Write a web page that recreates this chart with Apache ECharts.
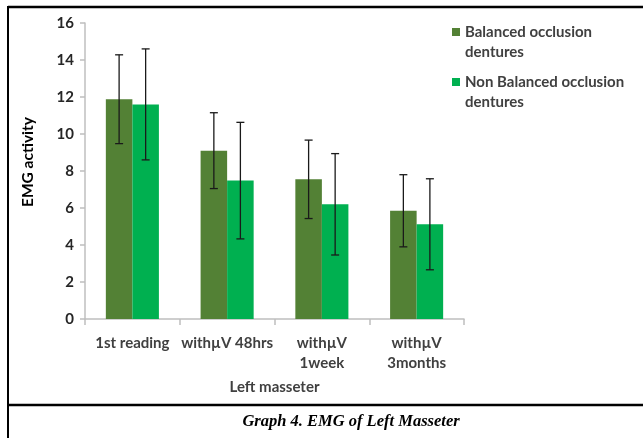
<!DOCTYPE html>
<html>
<head>
<meta charset="utf-8">
<script src="https://cdn.jsdelivr.net/npm/echarts@6/dist/echarts.min.js"></script>
<style>
  html, body { margin: 0; padding: 0; background: #fff; }
  #chart { width: 643px; height: 438px; }
</style>
</head>
<body>
<div id="chart"></div>
<script>
// ---- data ----
const categories = ['1st reading', 'withµV 48hrs', 'withµV\n1week', 'withµV\n3months'];
const seriesNames = ['Balanced occlusion dentures', 'Non Balanced occlusion dentures'];
const balancedMean = [11.88, 9.10, 7.55, 5.85];
const balancedSD   = [2.40, 2.05, 2.12, 1.95];
const nonBalancedMean = [11.60, 7.48, 6.20, 5.12];
const nonBalancedSD   = [3.00, 3.15, 2.74, 2.46];
const yTicks = [0, 2, 4, 6, 8, 10, 12, 14, 16];

const colors = ['#538135', '#00B050'];
const barRatio = 0.28;
const fontFam = 'Lato, "Liberation Sans", sans-serif';

function errData(mean, sd) {
  return mean.map((m, i) => [i, m - sd[i], m + sd[i]]);
}

function errRender(side) {
  return function (params, api) {
    const xi = api.value(0);
    const bandW = api.size([1, 0])[0];
    const off = side * bandW * barRatio / 2;
    const lo = api.coord([xi, api.value(1)]);
    const hi = api.coord([xi, api.value(2)]);
    const x = lo[0] + off;
    const cap = 4;
    const st = { stroke: '#1a1a1a', lineWidth: 1.3 };
    return {
      type: 'group',
      children: [
        { type: 'line', shape: { x1: x, y1: hi[1], x2: x, y2: lo[1] }, style: st },
        { type: 'line', shape: { x1: x - cap, y1: hi[1], x2: x + cap, y2: hi[1] }, style: st },
        { type: 'line', shape: { x1: x - cap, y1: lo[1], x2: x + cap, y2: lo[1] }, style: st }
      ]
    };
  };
}

const chart = echarts.init(document.getElementById('chart'), null, { renderer: 'canvas' });
chart.setOption({
  animation: false,
  backgroundColor: '#fff',
  grid: { left: 85, right: 179, top: 23, bottom: 119, containLabel: false },
  legend: {
    orient: 'vertical',
    left: 452,
    top: 2,
    padding: 0,
    itemWidth: 8,
    itemHeight: 8,
    itemGap: -10,
    icon: 'rect',
    data: seriesNames,
    formatter: function (name) {
      return ' \n' + name.replace(' dentures', '\ndentures');
    },
    textStyle: {
      fontFamily: fontFam,
      fontSize: 15,
      fontWeight: 'bold',
      color: '#404040',
      lineHeight: 20
    }
  },
  xAxis: {
    type: 'category',
    data: categories,
    name: 'Left masseter',
    nameLocation: 'middle',
    nameGap: 61,
    nameTextStyle: { fontFamily: fontFam, fontSize: 15, fontWeight: 'bold', color: '#404040' },
    axisLine: { lineStyle: { color: '#BFBFBF', width: 1.5 } },
    axisTick: { show: true, length: 6, lineStyle: { color: '#BFBFBF', width: 1.5 } },
    axisLabel: {
      fontFamily: fontFam, fontSize: 15, fontWeight: 'bold', color: '#404040',
      lineHeight: 20, margin: 14, interval: 0
    },
    splitLine: { show: false }
  },
  yAxis: {
    type: 'value',
    min: yTicks[0],
    max: yTicks[yTicks.length - 1],
    interval: yTicks[1] - yTicks[0],
    name: 'EMG activity',
    nameLocation: 'middle',
    nameGap: 49,
    nameTextStyle: { fontFamily: fontFam, fontSize: 15.5, fontWeight: 'bold', color: '#000', padding: [0, 0, 0, 18] },
    axisLine: { show: true, lineStyle: { color: '#BFBFBF', width: 1.5 } },
    axisTick: { show: true, length: 5, lineStyle: { color: '#BFBFBF', width: 1.5 } },
    axisLabel: { fontFamily: fontFam, fontSize: 15, fontWeight: 'bold', color: '#262626', margin: 11 },
    splitLine: { show: false }
  },
  series: [
    {
      name: seriesNames[0], type: 'bar', data: balancedMean,
      barWidth: (barRatio * 100) + '%', barGap: '0%',
      itemStyle: { color: colors[0] }
    },
    {
      name: seriesNames[1], type: 'bar', data: nonBalancedMean,
      barWidth: (barRatio * 100) + '%', barGap: '0%',
      itemStyle: { color: colors[1] }
    },
    {
      type: 'custom', name: 'err1', data: errData(balancedMean, balancedSD),
      renderItem: errRender(-1), encode: { x: 0, y: [1, 2] }, z: 10, silent: true
    },
    {
      type: 'custom', name: 'err2', data: errData(nonBalancedMean, nonBalancedSD),
      renderItem: errRender(1), encode: { x: 0, y: [1, 2] }, z: 10, silent: true
    }
  ],
  graphic: [
    { type: 'line', shape: { x1: 8, y1: 7, x2: 643, y2: 7 }, style: { stroke: '#000', lineWidth: 2.5 } },
    { type: 'line', shape: { x1: 8, y1: 6, x2: 8, y2: 438 }, style: { stroke: '#000', lineWidth: 2 } },
    { type: 'line', shape: { x1: 8, y1: 405, x2: 643, y2: 405 }, style: { stroke: '#000', lineWidth: 2.5 } },
    {
      type: 'text', x: 351, y: 422,
      style: {
        text: 'Graph 4. EMG of Left Masseter',
        font: 'italic bold 16.5px "Liberation Serif", "DejaVu Serif", serif',
        fill: '#000', textAlign: 'center', textVerticalAlign: 'middle'
      }
    }
  ]
});
</script>
</body>
</html>
